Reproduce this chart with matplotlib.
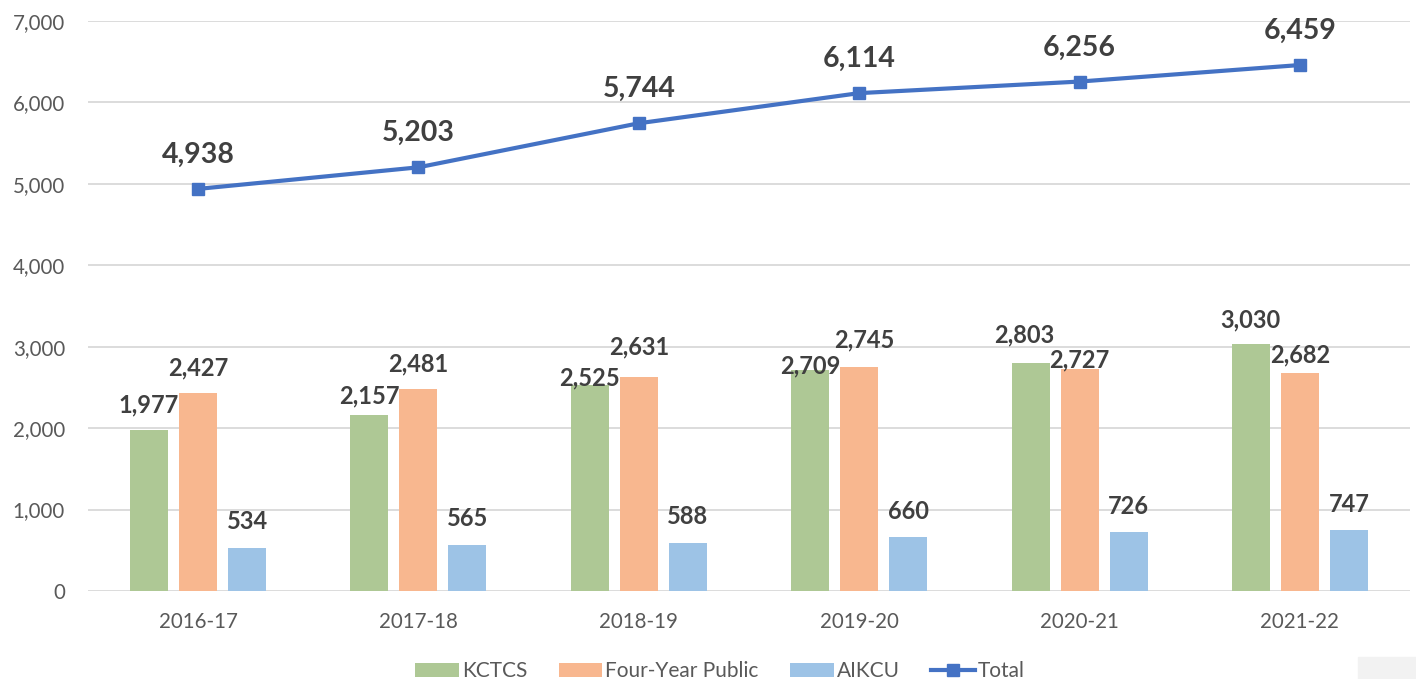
import matplotlib.pyplot as plt
import numpy as np
from matplotlib.patches import Rectangle

plt.rcParams['font.family'] = ['Lato', 'DejaVu Sans']

# data
years = ['2016-17', '2017-18', '2018-19', '2019-20', '2020-21', '2021-22']
kctcs = [1977, 2157, 2525, 2709, 2803, 3030]
four_year = [2427, 2481, 2631, 2745, 2727, 2682]
aikcu = [534, 565, 588, 660, 726, 747]
total = [4938, 5203, 5744, 6114, 6256, 6459]

# label nudges in pixels (the labels were hand-placed in the original)
gap_green = [18, 12, 0, -3, 20, 17]
dx_green = [0, 0, 0, 0, -6, 0]
gap_orange = [18, 18, 22, 20, 2, 10]
dx_orange = [0, 0, 0, 5, 0, 0]
gap_blue = [19, 19, 19, 18, 18, 18]
dx_blue = [0, 0, 0, 0, 0, 0]

c_green = '#AEC895'
c_orange = '#F8B78F'
c_blue = '#9DC3E6'
c_line = '#4472C4'
c_lab = '#404040'
c_tick = '#595959'

fig = plt.figure(figsize=(14.16, 6.79), dpi=100)
ax = fig.add_axes([0.0621, 0.1296, 0.9337, 0.8395])

x = np.arange(len(years))
w = 0.1725
off = 0.2224
px = 72 / 100  # points per pixel

b1 = ax.bar(x - off, kctcs, w, color=c_green, label='KCTCS', zorder=2)
b2 = ax.bar(x, four_year, w, color=c_orange, label='Four-Year Public', zorder=2)
b3 = ax.bar(x + off, aikcu, w, color=c_blue, label='AIKCU', zorder=2)
ln, = ax.plot(x, total, color=c_line, lw=3, marker='s', ms=8, label='Total', zorder=3)

for bars, gaps, dxs in ((b1, gap_green, dx_green), (b2, gap_orange, dx_orange),
                        (b3, gap_blue, dx_blue)):
    for r, g, d in zip(bars, gaps, dxs):
        h = r.get_height()
        ax.annotate(f'{h:,.0f}', (r.get_x() + r.get_width() / 2, h),
                    xytext=(d * px, g * px), textcoords='offset points',
                    ha='center', va='baseline', fontsize=17, fontweight='bold',
                    color=c_lab, zorder=4)

for xi, t in zip(x, total):
    ax.annotate(f'{t:,.0f}', (xi, t), xytext=(0, 26 * px), textcoords='offset points',
                ha='center', va='baseline', fontsize=20.5, fontweight='bold',
                color=c_lab, zorder=4)

ax.set_xlim(-0.5, len(years) - 0.5)
ax.set_ylim(0, 7000)
ax.set_yticks(np.arange(0, 7001, 1000))
ax.set_yticklabels([f'{v:,}' for v in range(0, 7001, 1000)])
ax.set_xticks(x)
ax.set_xticklabels(years)
ax.tick_params(axis='both', length=0, labelsize=14.8, colors=c_tick)
ax.tick_params(axis='x', pad=15)
ax.tick_params(axis='y', pad=16.5)
ax.grid(axis='y', color='#D9D9D9', lw=1.3, zorder=0)
for s in ax.spines.values():
    s.set_visible(False)

leg = fig.legend(handles=[b1, b2, b3, ln], loc='center', ncol=4,
                 bbox_to_anchor=(720 / 1416, 1 - 671 / 679), frameon=False, fontsize=15,
                 handlelength=2.1, handleheight=0.67, columnspacing=1.5,
                 handletextpad=0.15, borderpad=0)
for t in leg.get_texts():
    t.set_color(c_tick)

fig.patches.append(Rectangle((1358 / 1416, 0), 58 / 1416, 22 / 679,
                             transform=fig.transFigure, color='#F2F2F2', zorder=0))

fig.savefig('out.png', dpi=100)
